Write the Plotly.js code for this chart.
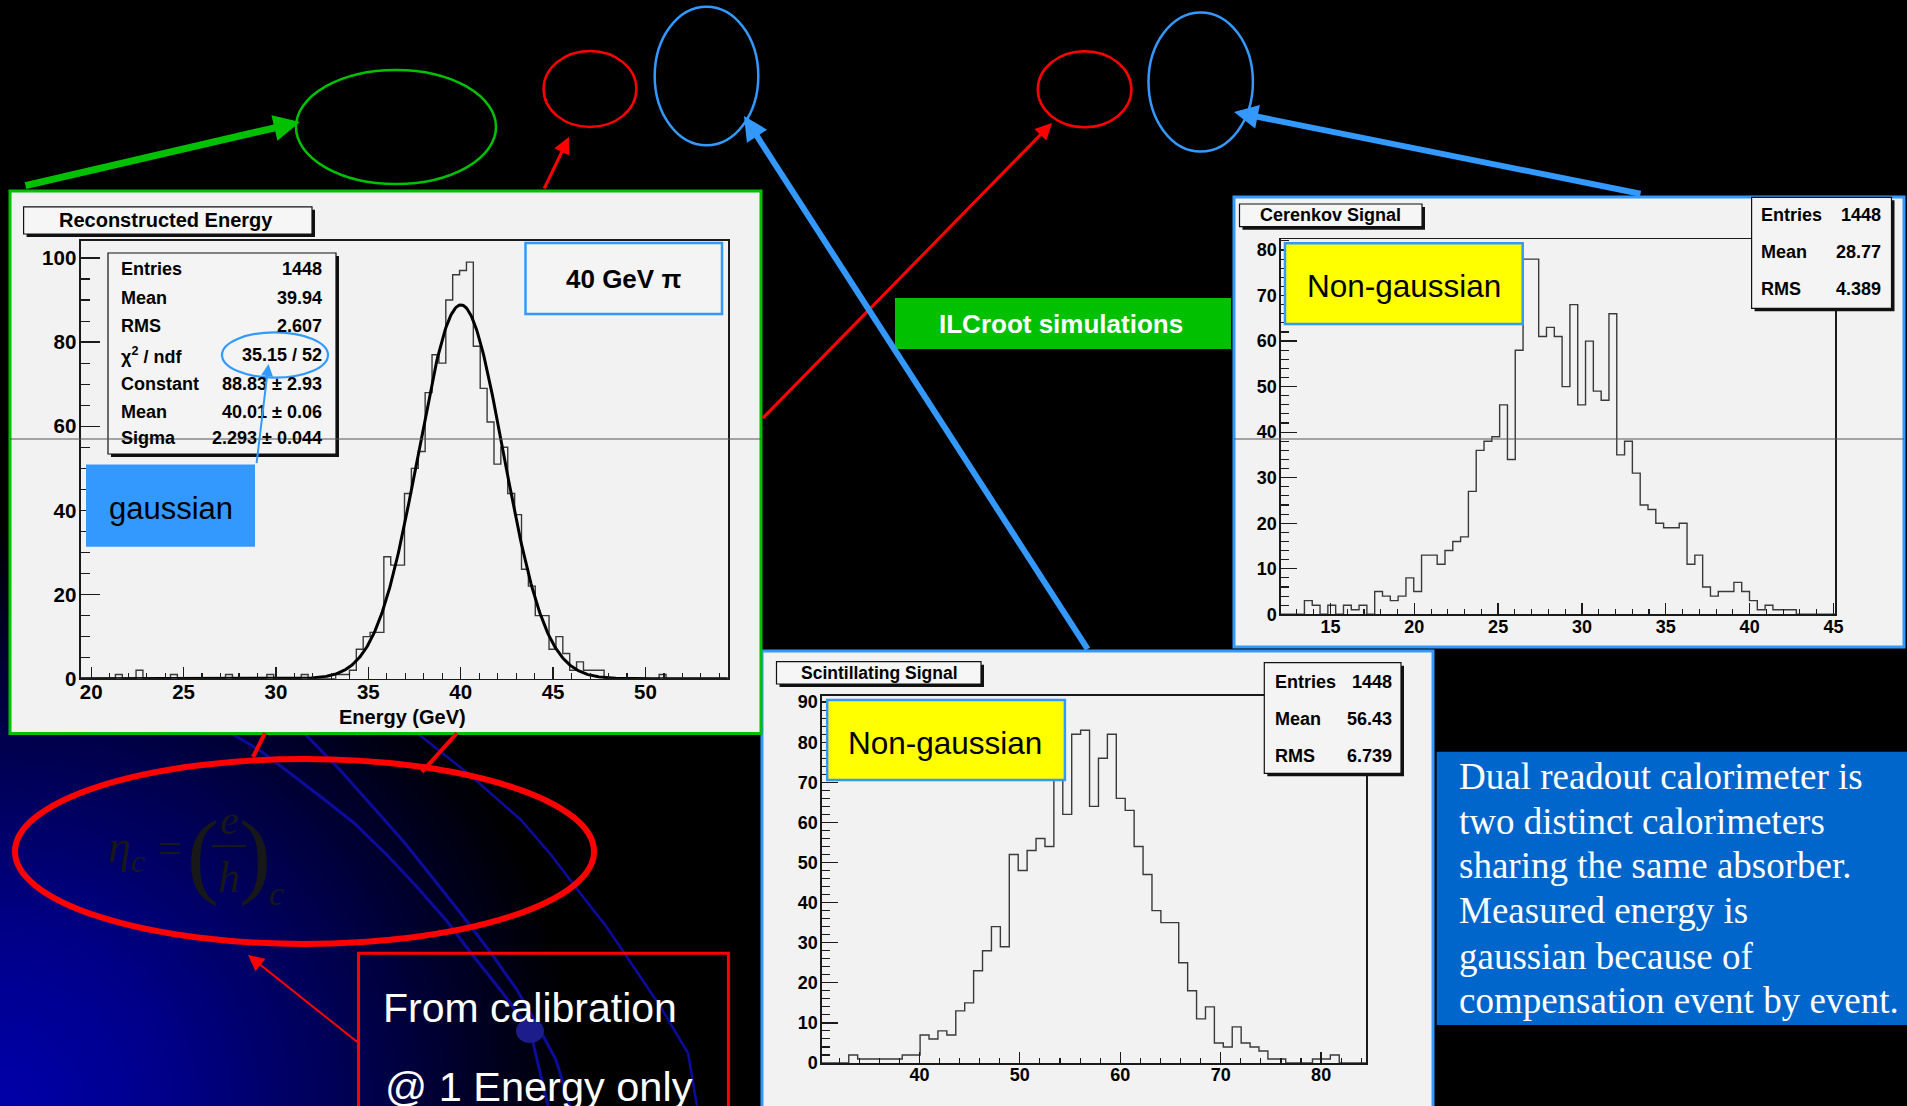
<!DOCTYPE html>
<html>
<head>
<meta charset="utf-8">
<script src="https://cdn.plot.ly/plotly-3.0.1.min.js"></script>
<style>
  html, body { margin: 0; padding: 0; background: #000; }
  #slide {
    width: 1907px; height: 1106px;
    background-color: #000;
    background-image: radial-gradient(circle 660px at 0px 1106px, #0000aa 0%, #00008a 25%, #00004e 55%, #000000 88%);
  }
</style>
</head>
<body>
<div id="slide"></div>
<script>
// ---------- Reconstructed energy (40 GeV pions), 94 bins of 0.3725 GeV ----------
const recoBinStart = 19.45;
const recoBinWidth = 0.3725;
const recoCounts = [
  0,0,0,0,0, 1,0,0,2,0, 0,0,0,1,0, 0,0,0,0,0,
  0,1,0,0,0, 0,0,1,0,0, 0,0,1,0,0, 0,0,1,1,2,
  7,10,11,11,29, 27,27,44,50,54, 68,77,75,90,96, 97,99,79,69,61,
  51,55,44,39,26, 22,15,15,7,10, 6,2,4,2,2, 2,0,0,0,0,
  0,0,0,0,1, 0,0,0,0,0, 0,0,0,0
];
// Gaussian fit result
const fitConstant = 88.83;
const fitMean = 40.01;
const fitSigma = 2.293;
const recoStatLabels = ['Entries', 'Mean', 'RMS', 'χ<sup>2</sup> / ndf', 'Constant', 'Mean', 'Sigma'];
const recoStatValues = ['1448', '39.94', '2.607', '35.15 / 52', '88.83 ± 2.93', '40.01 ± 0.06', '2.293 ± 0.044'];

// ---------- Cerenkov signal, 71 bins of 0.4657 ----------
const cerBinStart = 12.05;
const cerBinWidth = 0.4657;
const cerCounts = [
  0,0,0,
  3,2,0,2,0,2,1,2,0,
  5,4,3,4,8,5,
  13,13,11,14,16,17,
  27,36,38,39,46,34,58,
  78,78,61,63,61,50,
  68,46,60,49,47,66,
  35,38,31,24,23,20,19,19,20,
  11,13,6,4,5,5,7,5,3,1,2,1,1,1,
  0,0,0,0,0
];
const cerStatLabels = ['Entries', 'Mean', 'RMS'];
const cerStatValues = ['1448', '28.77', '4.389'];

// ---------- Scintillating signal, 61 bins of 0.888 ----------
const sciBinStart = 30.3;
const sciBinWidth = 0.888;
const sciCounts = [
  0,0,0,
  2,1,1,1,1,1,2,2,
  7,6,8,7,13,15,23,28,34,29,
  52,48,53,56,54,76,62,82,83,64,
  76,82,66,63,54,47,38,35,35,25,
  18,11,14,5,4,9,5,4,3,1,1,0,0,0,1,1,2,
  0,0,0
];
const sciStatLabels = ['Entries', 'Mean', 'RMS'];
const sciStatValues = ['1448', '56.43', '6.739'];

const noteLines = [
  'Dual readout calorimeter is',
  'two distinct calorimeters',
  'sharing the same absorber.',
  'Measured energy is',
  'gaussian because of',
  'compensation event by event.'
];

// ---------- page geometry helpers (pixel -> paper) ----------
const W = 1907, H = 1106;
const px = x => x / W;
const py = y => 1 - y / H;
const SANS = 'Liberation Sans, Arial, Helvetica, sans-serif';
const SERIF = 'Liberation Serif, Times New Roman, serif';
const GREEN = '#00c000', BLUE = '#3399ff', RED = '#ff0000';
const PANEL = '#f2f2f2';

function rect(x0, y0, x1, y1, fill, line, lw, layer) {
  return {type: 'rect', xref: 'paper', yref: 'paper',
    x0: px(x0), x1: px(x1), y0: py(y1), y1: py(y0),
    fillcolor: fill || 'rgba(0,0,0,0)',
    line: {color: line || 'rgba(0,0,0,0)', width: lw || 0},
    layer: layer || 'above'};
}
function ellipse(cx, cy, rx, ry, color, lw, fill, layer) {
  return {type: 'circle', xref: 'paper', yref: 'paper',
    x0: px(cx - rx), x1: px(cx + rx), y0: py(cy + ry), y1: py(cy - ry),
    fillcolor: fill || 'rgba(0,0,0,0)',
    line: {color: color || 'rgba(0,0,0,0)', width: lw || 0},
    layer: layer || 'above'};
}
function seg(x0, y0, x1, y1, color, lw, layer) {
  return {type: 'line', xref: 'paper', yref: 'paper',
    x0: px(x0), y0: py(y0), x1: px(x1), y1: py(y1),
    line: {color: color, width: lw}, layer: layer || 'above'};
}
function poly(points, color, lw, layer) {
  const d = points.map((p, i) => (i ? 'L' : 'M') + px(p[0]).toFixed(5) + ',' + py(p[1]).toFixed(5)).join(' ');
  return {type: 'path', xref: 'paper', yref: 'paper', path: d,
    line: {color: color, width: lw}, layer: layer || 'above'};
}
function label(x, y, str, size, o) {
  o = o || {};
  return {xref: 'paper', yref: 'paper', x: px(x), y: py(y), text: str, showarrow: false,
    xanchor: o.xanchor || 'center', yanchor: o.yanchor || 'middle',
    font: {family: o.family || SANS, size: size, color: o.color || '#000'}};
}
function arrow(x0, y0, x1, y1, color, width, size) {
  return {xref: 'paper', yref: 'paper', x: px(x1), y: py(y1),
    axref: 'pixel', ayref: 'pixel', ax: x0 - x1, ay: y0 - y1,
    text: '', showarrow: true, arrowhead: 2, arrowsize: size, arrowwidth: width,
    arrowcolor: color, standoff: 0, startstandoff: 0};
}

// ---------- histogram outlines ----------
function stepTrace(start, width, counts, xa, ya) {
  const xs = [], ys = [];
  for (let i = 0; i <= counts.length; i++) {
    xs.push(start + i * width);
    ys.push(counts[Math.min(i, counts.length - 1)]);
  }
  return {type: 'scatter', mode: 'lines', x: xs, y: ys, xaxis: xa, yaxis: ya,
    line: {shape: 'hv', color: '#3a3a3a', width: 1.4}, hoverinfo: 'skip'};
}
const recoEnd = recoBinStart + recoCounts.length * recoBinWidth;
const fitX = [], fitY = [];
for (let x = recoBinStart; x <= recoEnd; x += 0.05) {
  fitX.push(x);
  fitY.push(fitConstant * Math.exp(-0.5 * Math.pow((x - fitMean) / fitSigma, 2)));
}

const traces = [
  stepTrace(recoBinStart, recoBinWidth, recoCounts, 'x', 'y'),
  {type: 'scatter', mode: 'lines', x: fitX, y: fitY, xaxis: 'x', yaxis: 'y',
   line: {color: '#000', width: 3}, hoverinfo: 'skip'},
  stepTrace(cerBinStart, cerBinWidth, cerCounts, 'x2', 'y2'),
  stepTrace(sciBinStart, sciBinWidth, sciCounts, 'x3', 'y3')
];

// ---------- axes ----------
function axis(domain, range, dtick, minor, len, mlen, fontSize, anchor, standoff) {
  return {
    domain: domain, range: range, anchor: anchor,
    tickmode: 'linear', tick0: 0, dtick: dtick,
    ticks: 'inside', ticklen: len, tickwidth: 1.3, tickcolor: '#1a1a1a',
    minor: {dtick: minor, tick0: 0, ticks: 'inside', ticklen: mlen, tickwidth: 1.1,
            tickcolor: '#1a1a1a', showgrid: false},
    showgrid: false, zeroline: false,
    showline: true, linecolor: '#1a1a1a', linewidth: 1.6, mirror: true,
    tickfont: {family: SANS, size: fontSize, color: '#000', weight: 'bold'},
    ticklabelstandoff: standoff, fixedrange: true
  };
}

// ---------- decorations ----------
const ARC = '#0c0c9c';
const shapes = [
  // background arcs of the slide
  poly([[231,733],[262,752],[295,777],[325,800],[354,823],[387,855],[417,887],[446,920],[471,953],[502,992],[530,1030],[548,1106]], ARC, 3, 'below'),
  poly([[304,733],[340,770],[373,807],[404,842],[432,877],[462,915],[491,953],[517,990],[540,1030],[556,1060],[570,1106]], ARC, 3, 'below'),
  poly([[417,733],[470,775],[521,820],[552,856],[580,893],[606,926],[629,960],[660,1006],[688,1053],[697,1106]], ARC, 2.5, 'below'),
  ellipse(530, 1031, 14, 12, null, 0, '#1c1c8a', 'below'),
  // panels
  rect(1234, 197, 1904, 647, PANEL, BLUE, 3, 'below'),
  rect(762, 651, 1433, 1112, PANEL, BLUE, 3, 'below'),
  rect(10, 191, 761, 733.5, PANEL, GREEN, 3, 'below'),

  // reconstructed energy panel boxes
  rect(26.6, 209.8, 315, 237, '#111'),
  rect(23.6, 206.8, 312, 234, '#f6f6f6', '#111', 1.2),
  rect(111, 256, 339, 457, '#111'),
  rect(108, 253, 336, 454, '#f4f4f4', '#111', 1.2),
  rect(525.5, 243, 722, 314, '#f4f4f4', BLUE, 2.5),
  rect(86, 464.6, 255, 546.8, BLUE),
  ellipse(275, 355, 53, 22.7, BLUE, 2.2),

  // cerenkov panel boxes
  rect(1242.5, 207, 1425, 229.7, '#111'),
  rect(1239.5, 204, 1422, 226.7, '#f6f6f6', '#111', 1.2),
  rect(1754.6, 200.3, 1894.5, 311.3, '#111'),
  rect(1751.6, 197.3, 1891.5, 308.3, '#f4f4f4', '#111', 1.2),
  rect(1285, 243.3, 1522.7, 324, '#ffff00', BLUE, 2.5),

  // scintillating panel boxes
  rect(779.5, 664.7, 984, 687, '#111'),
  rect(776.5, 661.7, 981, 684, '#f6f6f6', '#111', 1.2),
  rect(1267.3, 665.7, 1404, 776.3, '#111'),
  rect(1264.3, 662.7, 1401, 773.3, '#f4f4f4', '#111', 1.2),
  rect(827.2, 700, 1064.9, 780, '#ffff00', BLUE, 2.5),

  // thin horizontal line through the two upper panels
  seg(10, 439, 761, 439, '#555', 1),
  seg(1234, 439, 1904, 439, '#555', 1),

  // ellipses marking quantities at the top
  ellipse(396, 127, 100, 57, GREEN, 2.5),
  ellipse(590, 89, 46.4, 38, RED, 2.5),
  ellipse(706.5, 76, 51.8, 69.3, BLUE, 2.5),
  ellipse(1084.6, 89.3, 46.8, 38, RED, 2.5),
  ellipse(1200.7, 82, 52.2, 69.5, BLUE, 2.5),

  // green label and note box
  rect(895, 298, 1231, 349, GREEN),
  rect(1436.7, 751.7, 1910, 1025, '#0066cc'),

  // calibration constant highlight
  seg(265, 733, 253, 757, RED, 4),
  seg(457, 733, 422, 772, RED, 4),
  ellipse(304.5, 851.5, 289.5, 92.5, RED, 6),
  rect(358.5, 953.3, 728.4, 1115, null, RED, 3),
  // fraction bar of the compensation ratio
  seg(212, 846, 246, 846, '#181818', 2, 'below')
];

const annotations = [];
// titles of the three histograms
annotations.push(label(166, 220.4, '<b>Reconstructed Energy</b>', 20));
annotations.push(label(1330.8, 215.3, '<b>Cerenkov Signal</b>', 18));
annotations.push(label(879, 672.8, '<b>Scintillating Signal</b>', 17.5));
// statistics boxes
const recoRows = [269.3, 297.9, 326.4, 355, 383.6, 412, 438];
recoStatLabels.forEach((t, i) => annotations.push(label(118.9, recoRows[i], '<b>' + t + '</b>', 18, {xanchor: 'left'})));
recoStatValues.forEach((t, i) => annotations.push(label(324, recoRows[i], '<b>' + t + '</b>', 18, {xanchor: 'right'})));
const cerRows = [215, 252.3, 289.3];
cerStatLabels.forEach((t, i) => annotations.push(label(1759, cerRows[i], '<b>' + t + '</b>', 18, {xanchor: 'left'})));
cerStatValues.forEach((t, i) => annotations.push(label(1882.8, cerRows[i], '<b>' + t + '</b>', 18, {xanchor: 'right'})));
const sciRows = [681.7, 719, 756];
sciStatLabels.forEach((t, i) => annotations.push(label(1272.6, sciRows[i], '<b>' + t + '</b>', 18, {xanchor: 'left'})));
sciStatValues.forEach((t, i) => annotations.push(label(1394, sciRows[i], '<b>' + t + '</b>', 18, {xanchor: 'right'})));
// axis title
annotations.push(label(402.7, 716.5, '<b>Energy (GeV)</b>', 20));
// callouts
annotations.push(label(623.5, 278.5, '<b>40 GeV π</b>', 26));
annotations.push(label(107, 508.6, 'gaussian', 31, {xanchor: 'left'}));
annotations.push(label(1403.5, 286, 'Non-gaussian', 31.5));
annotations.push(label(944.7, 742.8, 'Non-gaussian', 31.5));
annotations.push(label(1061, 324, '<b>ILCroot simulations</b>', 26, {color: '#fff'}));
// note on the right
const noteBase = [789, 833.5, 878, 923, 968.7, 1013];
noteLines.forEach((t, i) => annotations.push(label(1456.7, noteBase[i] - 12.5, t, 37, {xanchor: 'left', family: SERIF, color: '#fff'})));
// calibration remark
annotations.push(label(380.6, 1007.5, 'From calibration', 41, {xanchor: 'left', color: '#fff'}));
annotations.push(label(383, 1086, '@ 1 Energy only', 41.5, {xanchor: 'left', color: '#fff'}));
// compensation ratio eta_c = (e/h)_c, dark on the dark background
const EQ = '#181818';
annotations.push(label(106, 850, '<i>η<sub>c</sub></i>', 46, {xanchor: 'left', family: SERIF, color: EQ}));
annotations.push(label(170, 848, '=', 42, {family: SERIF, color: EQ}));
annotations.push(label(203, 853, '(', 96, {family: SERIF, color: EQ}));
annotations.push(label(255, 853, ')', 96, {family: SERIF, color: EQ}));
annotations.push(label(229, 820, '<i>e</i>', 42, {family: SERIF, color: EQ}));
annotations.push(label(229, 878, '<i>h</i>', 44, {family: SERIF, color: EQ}));
annotations.push(label(276, 893, '<i>c</i>', 34, {family: SERIF, color: EQ}));
// arrows
annotations.push(arrow(24, 186, 300, 122, GREEN, 7, 0.75));
annotations.push(arrow(543.5, 190, 569, 137, RED, 3, 1.1));
annotations.push(arrow(761.4, 419.6, 1052, 123, RED, 3, 1.1));
annotations.push(arrow(1088.6, 650.7, 744, 116, BLUE, 6, 0.8));
annotations.push(arrow(1642, 194, 1234, 112, BLUE, 6, 0.8));
annotations.push(arrow(358.5, 1043, 248, 955, RED, 2, 1.6));
annotations.push(arrow(256.4, 464.6, 268.5, 364, BLUE, 2, 1.2));

const layout = {
  width: W, height: H,
  margin: {l: 0, r: 0, t: 0, b: 0},
  paper_bgcolor: 'rgba(0,0,0,0)',
  plot_bgcolor: 'rgba(0,0,0,0)',
  showlegend: false,
  xaxis: axis([px(81), px(728)], [recoBinStart, recoEnd], 5, 1, 12, 6, 20.5, 'y', -6),
  yaxis: axis([py(678.7), py(240.7)], [0, 104.1], 20, 5, 19, 9, 20.5, 'x', -1),
  xaxis2: axis([px(1281), px(1835.4)], [cerBinStart, cerBinStart + cerCounts.length * cerBinWidth], 5, 1, 11, 5.5, 18, 'y2', -5),
  yaxis2: axis([py(614.3), py(239.3)], [0, 82.35], 10, 2, 16, 8, 18, 'x2', -1),
  xaxis3: axis([px(822), px(1366)], [sciBinStart, sciBinStart + sciCounts.length * sciBinWidth], 10, 2, 11, 5.5, 18, 'y3', -5),
  yaxis3: axis([py(1063), py(695.7)], [0, 91.6], 10, 2, 16, 8, 18, 'x3', -1),
  shapes: shapes,
  annotations: annotations
};

Plotly.newPlot('slide', traces, layout, {displayModeBar: false, staticPlot: true});
</script>
</body>
</html>
